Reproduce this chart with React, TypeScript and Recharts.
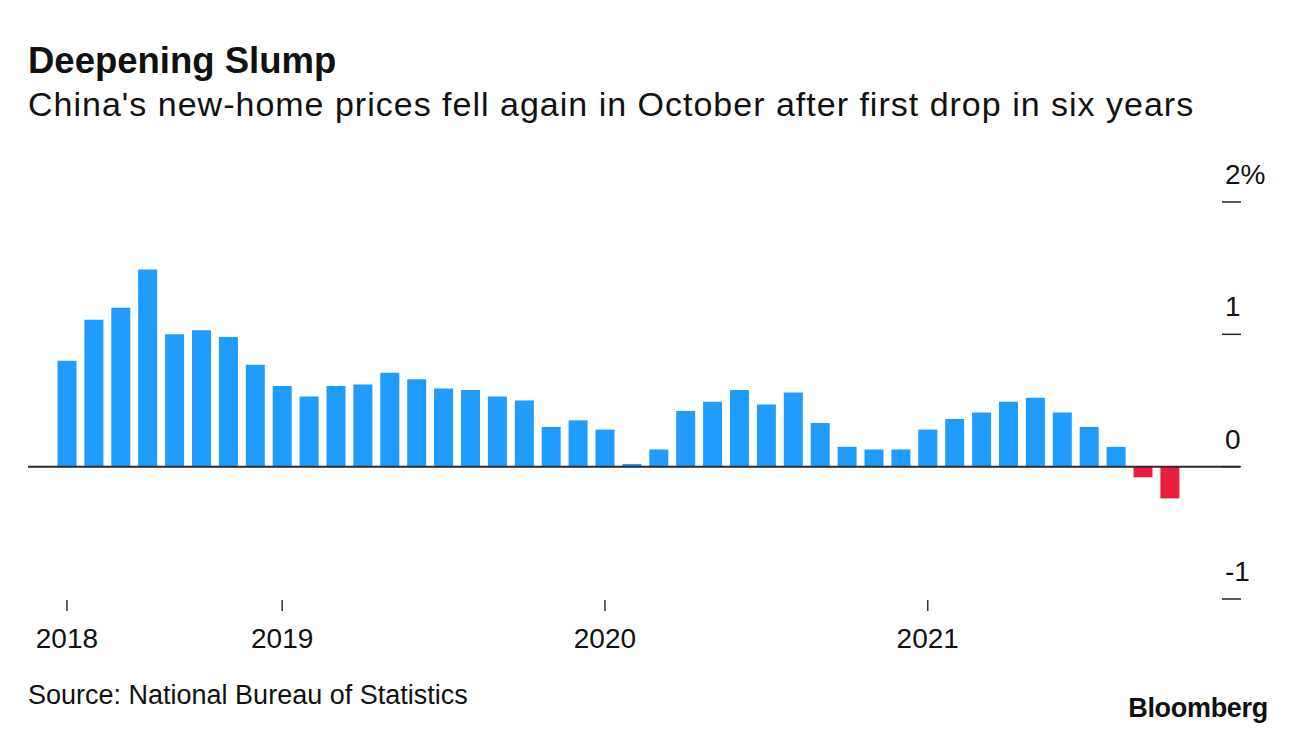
import { BarChart, Bar, Cell, XAxis, YAxis, ReferenceLine } from 'recharts';

// monthly change in new-home prices, May 2018 .. Oct 2021
const months = [
  '2018-05', '2018-06', '2018-07', '2018-08', '2018-09', '2018-10', '2018-11', '2018-12',
  '2019-01', '2019-02', '2019-03', '2019-04', '2019-05', '2019-06', '2019-07', '2019-08',
  '2019-09', '2019-10', '2019-11', '2019-12',
  '2020-01', '2020-02', '2020-03', '2020-04', '2020-05', '2020-06', '2020-07', '2020-08',
  '2020-09', '2020-10', '2020-11', '2020-12',
  '2021-01', '2021-02', '2021-03', '2021-04', '2021-05', '2021-06', '2021-07', '2021-08',
  '2021-09', '2021-10',
];

const priceChange = [
  0.80, 1.11, 1.20, 1.49, 1.00, 1.03, 0.98, 0.77,
  0.61, 0.53, 0.61, 0.62, 0.71, 0.66, 0.59, 0.58,
  0.53, 0.50, 0.30, 0.35,
  0.28, 0.02, 0.13, 0.42, 0.49, 0.58, 0.47, 0.56,
  0.33, 0.15, 0.13, 0.13,
  0.28, 0.36, 0.41, 0.49, 0.52, 0.41, 0.30, 0.15,
  -0.08, -0.24,
];

const yearTicks = ['2018-05', '2019-01', '2020-01', '2021-01'];
const valueTicks = [-1, 0, 1, 2];

const data = months.map((m, i) => ({ month: m, value: priceChange[i] }));

const FONT = '"Liberation Sans", Arial, Helvetica, sans-serif';

function YearTick(props: any) {
  const { x, payload } = props;
  if (!yearTicks.includes(payload.value)) return null;
  return (
    <g>
      <line x1={x} x2={x} y1={600} y2={611} stroke="#333" strokeWidth={1.5} />
      <text x={x} y={648} textAnchor="middle" fontSize={28} fill="#111" fontFamily={FONT}>
        {payload.value.slice(0, 4)}
      </text>
    </g>
  );
}

function ValueTick(props: any) {
  const { y, payload } = props;
  const label = payload.value === 2 ? '2%' : String(payload.value);
  return (
    <g>
      <line x1={1222} x2={1241} y1={y} y2={y} stroke="#222" strokeWidth={1.5} />
      <text x={1225} y={y - 18} textAnchor="start" fontSize={28} fill="#111" fontFamily={FONT}>
        {label}
      </text>
    </g>
  );
}

export default function App() {
  return (
    <div style={{ position: 'relative', width: 1296, height: 736, background: '#fff', fontFamily: FONT, color: '#111' }}>
      <style>{`body { margin: 0; }`}</style>
      <div style={{ position: 'absolute', left: 28, top: 43, fontSize: 36.5, fontWeight: 700, lineHeight: 1, whiteSpace: 'nowrap' }}>
        Deepening Slump
      </div>
      <div style={{ position: 'absolute', left: 28, top: 87, fontSize: 34, lineHeight: 1, letterSpacing: 1, whiteSpace: 'nowrap' }}>
        China's new-home prices fell again in October after first drop in six years
      </div>

      <div style={{ position: 'absolute', left: 0, top: 0 }}>
        <BarChart
          width={1296}
          height={736}
          data={data}
          margin={{ top: 202, right: 0, bottom: 97, left: 28 }}
        >
          <XAxis
            dataKey="month"
            height={40}
            interval={0}
            axisLine={false}
            tickLine={false}
            padding={{ left: 25.5, right: 56.7 }}
            tick={<YearTick />}
          />
          <YAxis
            orientation="right"
            width={56}
            domain={[-1, 2]}
            ticks={valueTicks}
            axisLine={false}
            tickLine={false}
            tick={<ValueTick />}
          />
          <Bar dataKey="value" barSize={19} isAnimationActive={false}>
            {data.map((d, i) => (
              <Cell key={`cell-${i}`} fill={d.value < 0 ? '#ea1f3f' : '#1f9cfe'} />
            ))}
          </Bar>
          <ReferenceLine y={0} stroke="#2b2b2b" strokeWidth={2} />
        </BarChart>
      </div>

      <div style={{ position: 'absolute', left: 28, top: 682, fontSize: 27, lineHeight: 1, whiteSpace: 'nowrap' }}>
        Source: National Bureau of Statistics
      </div>
      <div style={{ position: 'absolute', right: 28, top: 695, fontSize: 27, fontWeight: 700, lineHeight: 1, letterSpacing: -0.3 }}>
        Bloomberg
      </div>
    </div>
  );
}
